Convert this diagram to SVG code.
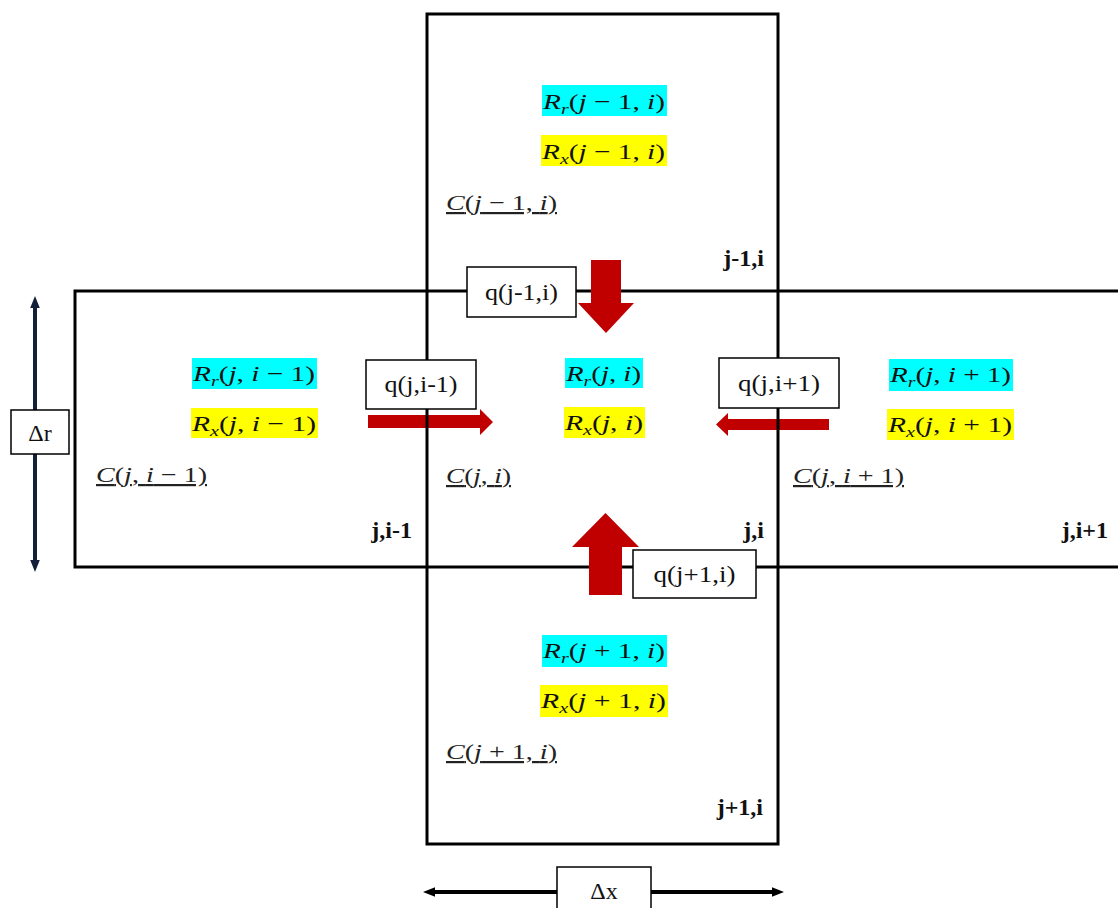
<svg xmlns="http://www.w3.org/2000/svg" width="1118" height="908" viewBox="0 0 1118 908">
<style>
.grid{fill:none;stroke:#000;stroke-width:3}
.m{font-family:"Liberation Serif","DejaVu Serif",serif;font-size:22px;fill:#111}
.i{font-style:italic}
.s{font-size:15px;font-style:italic}
.c{font-family:"Liberation Serif","DejaVu Serif",serif;font-size:22px;fill:#222;text-decoration:underline}
.lab{font-family:"Liberation Serif","DejaVu Serif",serif;font-size:24px;font-weight:bold;fill:#111;text-anchor:end}
.box{fill:#fff;stroke:#000;stroke-width:1.5}
.bt{font-family:"Liberation Serif","DejaVu Serif",serif;font-size:24px;fill:#111;text-anchor:middle}
.cy{fill:#00FFFF}
.ye{fill:#FFFF00}
.flow{fill:#C00000}
</style>
<defs>
<marker id="hn" viewBox="0 0 10 10" refX="5" refY="5" markerWidth="3" markerHeight="3" orient="auto-start-reverse" markerUnits="strokeWidth">
<path d="M0,1 L10,5 L0,9 z" fill="#14203a"/>
</marker>
<marker id="hb" viewBox="0 0 10 10" refX="5" refY="5" markerWidth="3" markerHeight="3" orient="auto-start-reverse" markerUnits="strokeWidth">
<path d="M0,1 L10,5 L0,9 z" fill="#000"/>
</marker>
</defs>
<rect width="1118" height="908" fill="#fff"/>

<g id="connectors-horizontal">
<polygon class="flow" points="368,415 480,415 480,409 493,422 480,435 480,428 368,428"/>
<polygon class="flow" points="829,419 728,419 728,413 716,424.5 728,436 728,430 829,430"/>
</g>

<g id="grid">
<rect class="grid" x="427" y="14" width="351" height="830"/>
<rect class="grid" x="75" y="291" width="1060" height="276"/>
</g>

<g id="connectors-vertical">
<polygon class="flow" points="591,260 621,260 621,303 634,303 606,333 578,303 591,303"/>
<polygon class="flow" points="589,595 622,595 622,547 639,547 605.5,513 572,547 589,547"/>
</g>

<g id="cell-top">
<rect class="cy" x="542" y="85" width="125" height="31"/>
<text class="m" x="543" y="109" textLength="122" lengthAdjust="spacingAndGlyphs"><tspan class="i">R</tspan><tspan class="s" dy="5">r</tspan><tspan dy="-5">(</tspan><tspan class="i">j</tspan> − 1, <tspan class="i">i</tspan>)</text>
<rect class="ye" x="541" y="135" width="126" height="31"/>
<text class="m" x="542" y="159" textLength="123" lengthAdjust="spacingAndGlyphs"><tspan class="i">R</tspan><tspan class="s" dy="5">x</tspan><tspan dy="-5">(</tspan><tspan class="i">j</tspan> − 1, <tspan class="i">i</tspan>)</text>
<text class="c" x="446" y="210" textLength="111" lengthAdjust="spacingAndGlyphs"><tspan class="i">C</tspan>(<tspan class="i">j</tspan> − 1, <tspan class="i">i</tspan>)</text>
<text class="lab" x="764" y="266">j-1,i</text>
</g>

<g id="cell-left">
<rect class="cy" x="192" y="358" width="125" height="31"/>
<text class="m" x="193" y="381" textLength="122" lengthAdjust="spacingAndGlyphs"><tspan class="i">R</tspan><tspan class="s" dy="5">r</tspan><tspan dy="-5">(</tspan><tspan class="i">j</tspan>, <tspan class="i">i</tspan> − 1)</text>
<rect class="ye" x="191" y="408" width="127" height="30"/>
<text class="m" x="192" y="431" textLength="124" lengthAdjust="spacingAndGlyphs"><tspan class="i">R</tspan><tspan class="s" dy="5">x</tspan><tspan dy="-5">(</tspan><tspan class="i">j</tspan>, <tspan class="i">i</tspan> − 1)</text>
<text class="c" x="96" y="482" textLength="111" lengthAdjust="spacingAndGlyphs"><tspan class="i">C</tspan>(<tspan class="i">j</tspan>, <tspan class="i">i</tspan> − 1)</text>
<text class="lab" x="412" y="538">j,i-1</text>
</g>

<g id="cell-center">
<rect class="cy" x="565" y="358" width="78" height="30"/>
<text class="m" x="566" y="381" textLength="75" lengthAdjust="spacingAndGlyphs"><tspan class="i">R</tspan><tspan class="s" dy="5">r</tspan><tspan dy="-5">(</tspan><tspan class="i">j</tspan>, <tspan class="i">i</tspan>)</text>
<rect class="ye" x="564" y="407" width="81" height="31"/>
<text class="m" x="565" y="430" textLength="78" lengthAdjust="spacingAndGlyphs"><tspan class="i">R</tspan><tspan class="s" dy="5">x</tspan><tspan dy="-5">(</tspan><tspan class="i">j</tspan>, <tspan class="i">i</tspan>)</text>
<text class="c" x="446" y="483" textLength="65" lengthAdjust="spacingAndGlyphs"><tspan class="i">C</tspan>(<tspan class="i">j</tspan>, <tspan class="i">i</tspan>)</text>
<text class="lab" x="764" y="538">j,i</text>
</g>

<g id="cell-right">
<rect class="cy" x="889" y="359" width="124" height="32"/>
<text class="m" x="890" y="382" textLength="121" lengthAdjust="spacingAndGlyphs"><tspan class="i">R</tspan><tspan class="s" dy="5">r</tspan><tspan dy="-5">(</tspan><tspan class="i">j</tspan>, <tspan class="i">i</tspan> + 1)</text>
<rect class="ye" x="887" y="409" width="127" height="31"/>
<text class="m" x="888" y="432" textLength="124" lengthAdjust="spacingAndGlyphs"><tspan class="i">R</tspan><tspan class="s" dy="5">x</tspan><tspan dy="-5">(</tspan><tspan class="i">j</tspan>, <tspan class="i">i</tspan> + 1)</text>
<text class="c" x="793" y="483" textLength="111" lengthAdjust="spacingAndGlyphs"><tspan class="i">C</tspan>(<tspan class="i">j</tspan>, <tspan class="i">i</tspan> + 1)</text>
<text class="lab" x="1108" y="538">j,i+1</text>
</g>

<g id="cell-bottom">
<rect class="cy" x="542" y="635" width="125" height="32"/>
<text class="m" x="543" y="658" textLength="122" lengthAdjust="spacingAndGlyphs"><tspan class="i">R</tspan><tspan class="s" dy="5">r</tspan><tspan dy="-5">(</tspan><tspan class="i">j</tspan> + 1, <tspan class="i">i</tspan>)</text>
<rect class="ye" x="540" y="685" width="128" height="32"/>
<text class="m" x="541" y="708" textLength="125" lengthAdjust="spacingAndGlyphs"><tspan class="i">R</tspan><tspan class="s" dy="5">x</tspan><tspan dy="-5">(</tspan><tspan class="i">j</tspan> + 1, <tspan class="i">i</tspan>)</text>
<text class="c" x="446" y="759" textLength="111" lengthAdjust="spacingAndGlyphs"><tspan class="i">C</tspan>(<tspan class="i">j</tspan> + 1, <tspan class="i">i</tspan>)</text>
<text class="lab" x="763" y="815">j+1,i</text>
</g>

<g id="flux-labels">
<g id="q-top"><rect class="box" x="467" y="267" width="109" height="50"/><text class="bt" x="521.5" y="300" textLength="73" lengthAdjust="spacingAndGlyphs">q(j-1,i)</text></g>
<g id="q-left"><rect class="box" x="366" y="360" width="110" height="49"/><text class="bt" x="421" y="392" textLength="73" lengthAdjust="spacingAndGlyphs">q(j,i-1)</text></g>
<g id="q-right"><rect class="box" x="719" y="358" width="120" height="50"/><text class="bt" x="779" y="391" textLength="82" lengthAdjust="spacingAndGlyphs">q(j,i+1)</text></g>
<g id="q-bottom"><rect class="box" x="633" y="550" width="123" height="48"/><text class="bt" x="694.5" y="582" textLength="82" lengthAdjust="spacingAndGlyphs">q(j+1,i)</text></g>
</g>

<g id="dimension-r">
<line x1="35" y1="302" x2="35" y2="566" stroke="#14203a" stroke-width="4" marker-start="url(#hn)" marker-end="url(#hn)"/>
<rect class="box" x="11" y="410" width="58" height="44"/>
<text class="bt" x="40" y="441">Δr</text>
</g>

<g id="dimension-x">
<line x1="429" y1="892" x2="778" y2="892" stroke="#000" stroke-width="4" marker-start="url(#hb)" marker-end="url(#hb)"/>
<rect class="box" x="557" y="867" width="94" height="50"/>
<text class="bt" x="604" y="899">Δx</text>
</g>
</svg>
